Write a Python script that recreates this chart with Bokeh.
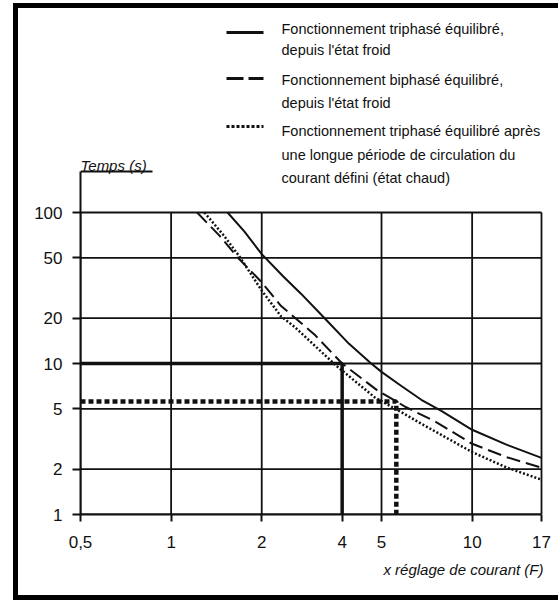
from bokeh.plotting import figure
from bokeh.models import Range1d, FixedTicker, Title
from bokeh.core.properties import value
from bokeh.embed import file_html
from bokeh.resources import INLINE

# ---------------- data ----------------
x_ticks = [0.5, 1, 2, 3.7, 5, 10, 17]
x_tick_labels = ["0,5", "1", "2", "4", "5", "10", "17"]
x_grid = [0.5, 1, 2, 5, 10, 17]
y_ticks = [1, 2, 5, 10, 20, 50, 100]
y_tick_labels = ["1", "2", "5", "10", "20", "50", "100"]

# triphasé équilibré, état froid (solid)
tri_cold_x = [1.54, 1.75, 2.0, 2.35, 2.7, 3.23, 3.9, 4.62, 5.0, 5.82, 6.78, 7.9, 10, 13, 17]
tri_cold_y = [100, 75, 53, 38, 29, 20, 13.5, 10, 8.8, 7.1, 5.75, 4.85, 3.64, 2.9, 2.37]

# biphasé équilibré, état froid (dashed)
bi_cold_x = [1.22, 1.45, 1.67, 2.0, 2.32, 2.6, 3.0, 3.7, 4.86, 5.6, 6.04, 7.5, 10, 13, 17]
bi_cold_y = [100, 70, 50, 34.5, 24, 19.8, 15.5, 10, 6.6, 5.6, 5.13, 4.15, 2.94, 2.4, 2.04]

# triphasé équilibré, état chaud (dotted)
tri_hot_x = [1.29, 1.5, 1.7, 2.0, 2.32, 2.57, 3.53, 4.74, 5.82, 6.78, 10, 13, 17]
tri_hot_y = [100, 70, 50, 30.4, 20.5, 17.5, 9.7, 5.98, 4.76, 3.99, 2.59, 2.05, 1.70]

# reading examples
ex_cold_x, ex_cold_y = 3.7, 10
ex_hot_x, ex_hot_y = 5.6, 5.6

legend_texts = [
    ["Fonctionnement triphasé équilibré,", "depuis l'état froid"],
    ["Fonctionnement biphasé équilibré,", "depuis l'état froid"],
    ["Fonctionnement triphasé équilibré après",
     "une longue période de circulation du",
     "courant défini (état chaud)"],
]
y_title = "Temps (s)"
x_title = "x réglage de courant (F)"

# ---------------- layout (pixels) ----------------
BLACK = "#111111"
FONT = "Liberation Sans"

W, H = 558, 600
X0, X1 = x_grid[0], x_grid[-1]
Y0, Y1 = y_ticks[0], y_ticks[-1]
PX_LEFT, PX_RIGHT = 80, 541        # pixel of X0 / X1
PX_TOP, PX_BOTTOM = 212, 514       # pixel of Y1 / Y0
EXTRA_R = 2                        # frame extends a little past X1
FL, FR, FT, FB = PX_LEFT, W - PX_RIGHT - EXTRA_R, 0, H - PX_BOTTOM


def cx(px):
    return X0 * (X1 / X0) ** ((px - PX_LEFT) / (PX_RIGHT - PX_LEFT))


def cy(py):
    return Y0 * (Y1 / Y0) ** ((PX_BOTTOM - py) / (PX_BOTTOM - PX_TOP))


p = figure(width=W, height=H, x_axis_type="log", y_axis_type="log",
           x_range=Range1d(X0, cx(PX_RIGHT + EXTRA_R)), y_range=Range1d(Y0, cy(0)),
           output_backend="svg", toolbar_location=None,
           min_border_left=FL, min_border_right=FR,
           min_border_top=FT, min_border_bottom=FB)
p.outline_line_color = None
p.background_fill_color = None
p.border_fill_color = None
p.xgrid.visible = False
p.ygrid.visible = False

for ax, ticks, labels in ((p.xaxis, x_ticks, x_tick_labels), (p.yaxis, y_ticks, y_tick_labels)):
    ax.ticker = FixedTicker(ticks=ticks)
    ax.major_label_overrides = dict(zip(ticks, labels))
    ax.minor_tick_line_color = None
    ax.major_tick_in = 0
    ax.major_tick_line_width = 2
    ax.major_tick_line_color = BLACK
    ax.axis_line_width = 2
    ax.axis_line_color = BLACK
    ax.major_label_text_font = FONT
    ax.major_label_text_font_size = "17px"
    ax.major_label_text_color = BLACK
p.xaxis.major_tick_out = 7
p.yaxis.major_tick_out = 8
p.xaxis.major_label_standoff = 14
p.yaxis.major_label_standoff = 10
p.xaxis.bounds = (X0, X1)
p.yaxis.bounds = (Y0, cy(171))     # axis line rises to the "Temps (s)" bracket

# grid (segments limited to the chart area)
p.segment(x0=x_grid, y0=[Y0] * len(x_grid), x1=x_grid, y1=[Y1] * len(x_grid),
          line_color=BLACK, line_width=1.8)
p.segment(x0=[X0] * len(y_ticks), y0=y_ticks, x1=[X1] * len(y_ticks), y1=y_ticks,
          line_color=BLACK, line_width=1.8)

# curves
p.line(tri_cold_x, tri_cold_y, line_color=BLACK, line_width=2)
p.line(bi_cold_x, bi_cold_y, line_color=BLACK, line_width=2, line_dash="14 6")
p.line(tri_hot_x, tri_hot_y, line_color=BLACK, line_width=2.5, line_dash="2 2")

# reading examples
p.line([X0, ex_cold_x, ex_cold_x], [ex_cold_y, ex_cold_y, Y0], line_color=BLACK, line_width=3.5)
p.line([X0, ex_hot_x, ex_hot_x], [ex_hot_y, ex_hot_y, Y0], line_color=BLACK,
       line_width=4.5, line_dash="5 3")

# "Temps (s)" bracket
p.line([X0, cx(152)], [cy(171), cy(171)], line_color=BLACK, line_width=2)
p.text(x=[cx(80)], y=[cy(165)], text=[y_title], text_font=value(FONT),
       text_font_style="italic", text_font_size="15px", text_color=BLACK,
       text_baseline="alphabetic", text_align="left")

# legend
sample_y = [32, 78, 126]
sample_dash = ["solid", "17 5", "3 2"]
line_base = [[28, 49], [79, 102], [130, 154, 177]]
for sy, dash, lines, bases in zip(sample_y, sample_dash, legend_texts, line_base):
    p.line([cx(226), cx(263)], [cy(sy), cy(sy)], line_color=BLACK, line_width=3, line_dash=dash)
    p.text(x=[cx(281)] * len(lines), y=[cy(b) for b in bases], text=lines,
           text_font=value(FONT), text_font_size="14.5px", text_color=BLACK,
           text_baseline="alphabetic", text_align="left")

# x title, right aligned below the axis
p.add_layout(Title(text=x_title, align="right", text_font=FONT, text_font_style="italic",
                   text_font_size="15px", text_color=BLACK, standoff=17), "below")

# outer frame of the figure (left, top, bottom edges)
p.styles = {
    "background-image": "linear-gradient(#000,#000), linear-gradient(#000,#000), linear-gradient(#000,#000)",
    "background-position": "13px 3px, 13px 3px, 13px 595px",
    "background-size": "5px 596px, 600px 5px, 600px 5px",
    "background-repeat": "no-repeat",
}

open("out.html", "w").write(file_html(p, INLINE))
